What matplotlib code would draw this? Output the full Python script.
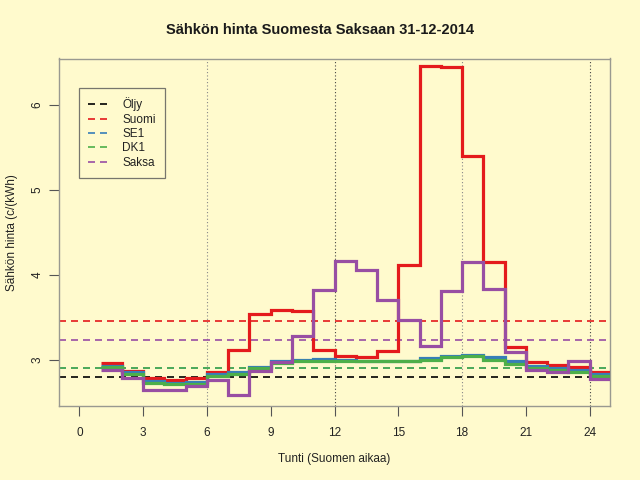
import matplotlib
matplotlib.use("Agg")
import matplotlib.pyplot as plt
import numpy as np

plt.rcParams['font.family'] = ['Liberation Sans', 'DejaVu Sans']

hours_start = 1
suomi = [2.96, 2.87, 2.78, 2.76, 2.78, 2.86, 3.12, 3.54, 3.59, 3.58, 3.11, 3.04,
         3.03, 3.10, 4.12, 6.46, 6.45, 5.40, 4.15, 3.15, 2.97, 2.94, 2.92, 2.86]
se1 = [2.93, 2.85, 2.75, 2.73, 2.74, 2.83, 2.85, 2.92, 2.98, 3.00, 3.01, 3.00,
       2.99, 2.99, 2.99, 3.02, 3.05, 3.06, 3.03, 2.98, 2.93, 2.90, 2.88, 2.83]
dk1 = [2.91, 2.83, 2.73, 2.71, 2.72, 2.81, 2.83, 2.90, 2.96, 2.98, 2.99, 2.99,
       2.98, 2.98, 2.98, 3.00, 3.03, 3.05, 3.00, 2.95, 2.90, 2.88, 2.86, 2.81]
saksa = [2.88, 2.78, 2.64, 2.64, 2.69, 2.76, 2.58, 2.87, 2.97, 3.28, 3.82, 4.16,
         4.06, 3.70, 3.47, 3.16, 3.81, 4.15, 3.83, 3.09, 2.88, 2.85, 2.99, 2.77]

mean_oljy = 2.80
mean_suomi = 3.46
mean_se1 = 2.90
mean_dk1 = 2.90
mean_saksa = 3.23

names = ['Öljy', 'Suomi', 'SE1', 'DK1', 'Saksa']
colors = ['#000000', '#E41A1C', '#377EB8', '#4DAF4A', '#984EA3']
xticks = [0, 3, 6, 9, 12, 15, 18, 21, 24]
yticks = [3, 4, 5, 6]
vlines = [6, 12, 18, 24]
vline_colors = ['#888888', '#444444', '#888888', '#444444']

bg = '#FFFACD'
fig = plt.figure(figsize=(6.4, 4.8), dpi=100, facecolor=bg)
ax = fig.add_axes([59/640, 1-406/480, (610-59)/640, (406-58.5)/480])
ax.set_facecolor(bg)

for x, c in zip(vlines, vline_colors):
    ax.axvline(x, color=c, lw=0.8, ls=(0, (1, 2)), zorder=1)

dash = (0, (4.2, 3.0))
means = [mean_oljy, mean_suomi, mean_se1, mean_dk1, mean_saksa]
for m, c, n in zip(means, colors, names):
    ax.axhline(m, color=c, lw=1.2, ls=dash, zorder=2, label=n)

edges = np.arange(hours_start, hours_start + len(suomi) + 1)
for vals, c in zip([suomi, se1, dk1, saksa], colors[1:]):
    ax.stairs(vals, edges, baseline=None, color=c, lw=2.3, zorder=3)

ax.set_xlim(-0.96, 24.96)
ax.set_ylim(2.455, 6.55)
ax.set_xticks(xticks)
ax.set_yticks(yticks)
ax.tick_params(axis='y', labelrotation=90, length=7, width=0.8, color='#555555',
               labelsize=8.5, labelcolor='#222222', pad=4)
ax.tick_params(axis='x', length=7, width=0.8, color='#555555',
               labelsize=8.5, labelcolor='#222222', pad=8)
for lab in ax.get_yticklabels():
    lab.set_verticalalignment('center')
for s in ax.spines.values():
    s.set_color('#999990')
    s.set_linewidth(1.0)

ax.set_xlabel('Tunti (Suomen aikaa)', fontsize=8.5, color='#222222', labelpad=10)
ax.set_ylabel('Sähkön hinta (c/(kWh)', fontsize=8.5, color='#222222', labelpad=10)
fig.text(0.5, 1-30/480, 'Sähkön hinta Suomesta Saksaan 31-12-2014', ha='center',
         va='center', fontsize=10.5, fontweight='bold', color='#1a1a1a')

leg = ax.legend(loc='upper left', bbox_to_anchor=((79-59)/551, 1-(88-58.5)/347.5),
                frameon=True, fancybox=False, fontsize=8.5, handlelength=1.75,
                borderpad=0.8, labelspacing=0.2, handletextpad=1.1,
                facecolor=bg, edgecolor='#555555', borderaxespad=0)
leg.get_frame().set_linewidth(0.9)
for t in leg.get_texts():
    t.set_color('#222222')

fig.savefig('out.png', dpi=100, facecolor=bg)
